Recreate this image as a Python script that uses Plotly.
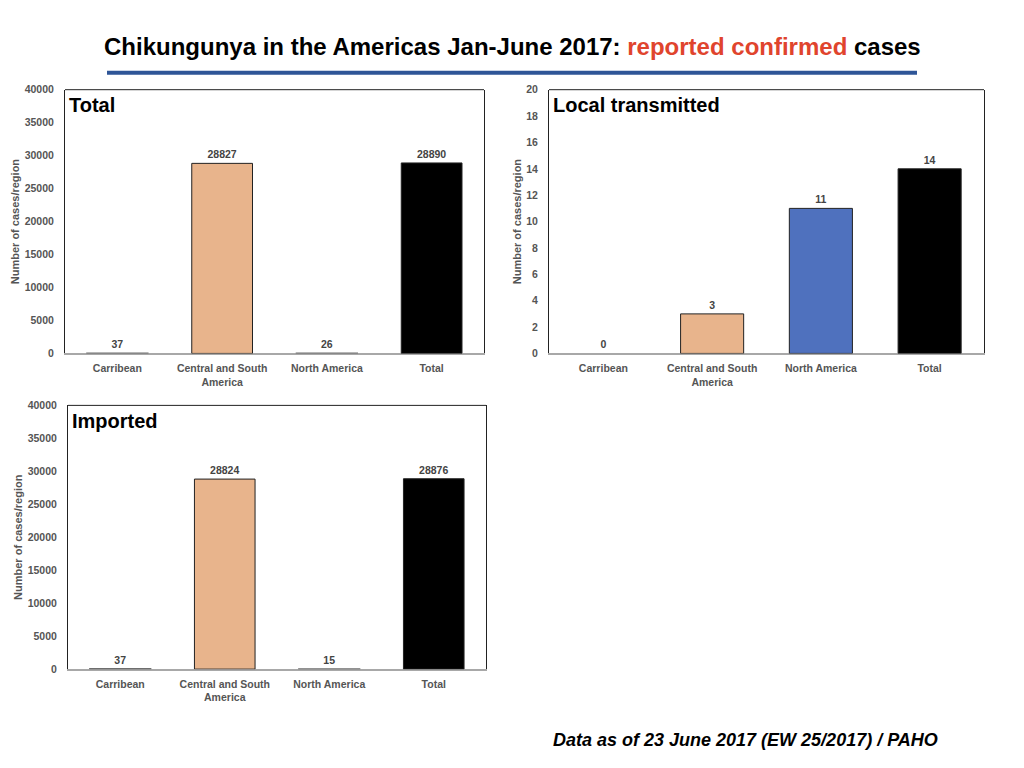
import plotly.graph_objects as go

FONT = "Liberation Sans"
GREY_TXT = "#555555"
TAN = "#E8B48C"
BLUE = "#4F71BE"
BLACK = "#000000"
SMALL = "#6E6E6E"

# data
regions = ["Carribean", "Central and South<br>America", "North America", "Total"]
total_cases = [37, 28827, 26, 28890]
local_cases = [0, 3, 11, 14]
imported_cases = [37, 28824, 15, 28876]

total_colors = [SMALL, TAN, SMALL, BLACK]
local_colors = [SMALL, TAN, BLUE, BLACK]
imported_colors = [SMALL, TAN, SMALL, BLACK]

# page is 1024x768, the body keeps an 8px margin, so the figure is 1008x752
W, H, OFF = 1008, 752, 8
# vertical correction measured from the rendered page
VS, VC = 0.985, 5.35


def px(x):
    return (x - OFF) / W


def py(y):
    page_y = (y - VC) / VS
    return 1 - (page_y - OFF) / H


panels = [
    # name, values, colors, frame in page pixels (left, right, top, bottom), y range, dtick
    ("Total", total_cases, total_colors, (65, 484, 89, 353), [0, 40000], 5000),
    ("Local transmitted", local_cases, local_colors, (549, 984, 89, 353), [0, 20], 2),
    ("Imported", imported_cases, imported_colors, (68, 486, 405, 669), [0, 40000], 5000),
]

fig = go.Figure()
layout = {}
shapes = []
annotations = []

for i, (name, vals, cols, box, yr, dt) in enumerate(panels):
    n = "" if i == 0 else str(i + 1)
    l, r, t, b = box
    line_cols = [c if c == SMALL else "#222222" for c in cols]
    # tiny bars only show as a grey stroke; a zero bar shows nothing
    line_w = [0 if v == 0 else (1.6 if c == SMALL else 1) for v, c in zip(vals, cols)]
    fig.add_trace(go.Bar(
        x=regions, y=vals,
        xaxis="x" + n, yaxis="y" + n,
        marker=dict(color=cols, line=dict(color=line_cols, width=line_w)),
        text=["<b>%d</b>" % v for v in vals],
        textposition="outside",
        textfont=dict(family=FONT, size=10.5, color="#444444"),
        cliponaxis=False,
        showlegend=False,
    ))
    layout["xaxis" + n] = dict(
        domain=[px(l), px(r)], anchor="y" + n,
        showline=True, linecolor="#A8A8A8", linewidth=2, layer="below traces",
        ticks="outside", ticklen=4, tickcolor="rgba(0,0,0,0)", showgrid=False,
        tickfont=dict(family=FONT, size=10.5, color=GREY_TXT, weight="bold"),
    )
    layout["yaxis" + n] = dict(
        domain=[py(b), py(t)], anchor="x" + n, range=yr, dtick=dt, tickformat="d",
        showline=True, linecolor="#222222", linewidth=1, mirror=True,
        showgrid=False, zeroline=False,
        ticks="outside", ticklen=8, tickcolor="rgba(0,0,0,0)",
        tickfont=dict(family=FONT, size=10.5, color=GREY_TXT, weight="bold"),
        title=dict(text="<b>Number of cases/region</b>", standoff=2,
                   font=dict(family=FONT, size=11, color=GREY_TXT)),
    )
    # top border of the plot frame
    shapes.append(dict(type="line", xref="x" + n + " domain", yref="y" + n + " domain",
                       x0=0, x1=1, y0=1, y1=1, line=dict(color="#222222", width=1)))
    annotations.append(dict(
        text="<b>" + name + "</b>", xref="x" + n + " domain", yref="y" + n + " domain",
        x=0.005, y=0.99, xanchor="left", yanchor="top", showarrow=False,
        font=dict(family=FONT, size=20, color="black"),
    ))

# header rule
shapes.append(dict(type="line", xref="paper", yref="paper",
                   x0=px(107), x1=px(917), y0=py(72), y1=py(72),
                   line=dict(color="#2E5597", width=4)))

annotations.append(dict(
    text="<b>Chikungunya in the Americas Jan-June 2017: "
         "<span style='color:#E0442D'>reported confirmed</span> cases</b>",
    xref="paper", yref="paper", x=px(512), y=py(46),
    xanchor="center", yanchor="middle", showarrow=False,
    font=dict(family=FONT, size=24, color="black"),
))
annotations.append(dict(
    text="<b><i>Data as of 23 June 2017 (EW 25/2017) / PAHO</i></b>",
    xref="paper", yref="paper", x=px(940), y=py(740),
    xanchor="right", yanchor="middle", showarrow=False,
    font=dict(family=FONT, size=18, color="black"),
))

fig.update_layout(
    **layout,
    shapes=shapes,
    annotations=annotations,
    bargap=0.42,
    width=W, height=H,
    margin=dict(l=0, r=0, t=0, b=0),
    paper_bgcolor="white", plot_bgcolor="white",
    font=dict(family=FONT),
)

fig.write_html("out.html")
